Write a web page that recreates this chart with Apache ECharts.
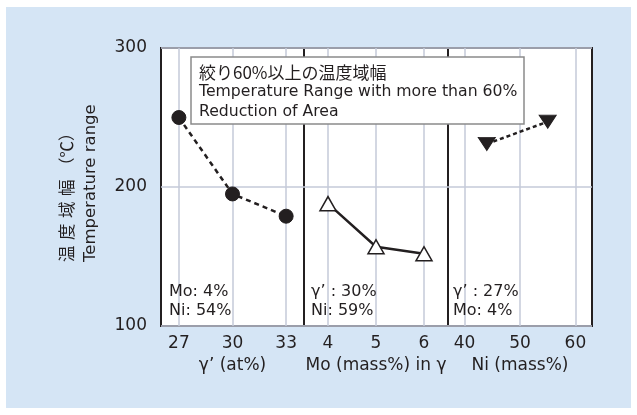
<!DOCTYPE html>
<html>
<head>
<meta charset="utf-8">
<script src="https://cdn.jsdelivr.net/npm/echarts@6/dist/echarts.min.js"></script>
<style>
  html, body { margin: 0; padding: 0; background: #ffffff; }
  #chart { width: 637px; height: 415px; }
</style>
</head>
<body>
<div id="chart"></div>
<script>
// Temperature range with reduction of area above 60%, three composition sweeps
const gammaPrimeAt = [27, 30, 33];          // γ' (at%)
const rangeVsGammaPrime = [250, 195, 179];  // °C
const moMass = [4, 5, 6];                   // Mo (mass%) in γ
const rangeVsMo = [188, 157, 152];          // °C
const niMass = [44, 55];                    // Ni (mass%)
const rangeVsNi = [231, 247];               // °C

const yTicks = [100, 200, 300];
const xTicks1 = [27, 30, 33];
const xTicks2 = [4, 5, 6];
const xTicks3 = [40, 50, 60];

const axisNames = ['γ’ (at%)', 'Mo (mass%) in γ', 'Ni (mass%)'];
const yNameJa = '温\u2004度\u2004域\u2004幅\u2004（℃）';
const yNameEn = 'Temperature range';
const boxTitleJa = '絞り60%以上の温度域幅';
const boxLinesEn = ['Temperature Range with more than 60%', 'Reduction of Area'];
const notes1 = ['Mo: 4%', 'Ni: 54%'];
const notes2 = ['γ’ : 30%', 'Ni: 59%'];
const notes3 = ['γ’ : 27%', 'Mo: 4%'];

const FONT = '"DejaVu Sans", "Noto Sans CJK JP", sans-serif';
const FONT_JA = '"Noto Sans CJK JP", sans-serif';
const INK = '#231f20';
const GRID_LINE = '#c4cad8';

const pairs = (xs, ys) => xs.map((x, i) => [x, ys[i]]);

const chart = echarts.init(document.getElementById('chart'), null, { renderer: 'canvas' });

const gridBase = { top: 48, height: 278, show: true, backgroundColor: '#ffffff', borderColor: INK, borderWidth: 2, containLabel: false };

function xAxisFor(idx, min, max, ticks, name) {
  return {
    type: 'value', gridIndex: idx, min: min, max: max,
    name: name, nameLocation: 'middle', nameGap: 31,
    nameTextStyle: { fontFamily: FONT, fontSize: 17, color: INK },
    axisLine: { show: false },
    axisTick: { show: false, customValues: ticks },
    axisLabel: { customValues: ticks, fontFamily: FONT, fontSize: 17, color: INK, margin: 9 },
    splitLine: { show: true, lineStyle: { color: GRID_LINE, width: 1.5 } }
  };
}

function yAxisFor(idx, showLabels) {
  return {
    type: 'value', gridIndex: idx, min: 100, max: 300, interval: 100,
    axisLine: { show: false }, axisTick: { show: false },
    axisLabel: { show: showLabels, customValues: yTicks, fontFamily: FONT, fontSize: 17, color: INK, margin: 14 },
    splitLine: { show: true, lineStyle: { color: GRID_LINE, width: 1.5 } }
  };
}

function noteText(x, lines) {
  return {
    type: 'text', x: x, y: 282, z: 10,
    style: { text: lines.join('\n'), fontFamily: FONT, fontSize: 16, fill: INK, lineHeight: 19.5, align: 'left', verticalAlign: 'top' }
  };
}

chart.setOption({
  animation: false,
  backgroundColor: '#ffffff',
  graphic: [
    { type: 'rect', z: -10, silent: true, shape: { x: 6, y: 7, width: 625, height: 401 }, style: { fill: '#d5e5f5' } },
    { type: 'rect', z: 20, shape: { x: 191, y: 57, width: 333, height: 67 }, style: { fill: '#ffffff', stroke: '#8a8a8a', lineWidth: 1.5 } },
    { type: 'text', z: 21, x: 199, y: 73, style: { text: boxTitleJa, fontFamily: FONT_JA, fontSize: 17, fill: INK, align: 'left', verticalAlign: 'middle' } },
    { type: 'text', z: 21, x: 199, y: 82.8, style: { text: boxLinesEn.join('\n'), fontFamily: FONT, fontSize: 15.7, fill: INK, lineHeight: 19.2, align: 'left', verticalAlign: 'top' } },
    { type: 'text', x: 67, y: 262, rotation: Math.PI / 2, style: { text: yNameJa, fontFamily: FONT_JA, fontSize: 16.5, fill: INK, align: 'left', verticalAlign: 'middle' } },
    { type: 'text', x: 91, y: 262, rotation: Math.PI / 2, style: { text: yNameEn, fontFamily: FONT, fontSize: 16.5, fill: INK, align: 'left', verticalAlign: 'middle' } },
    noteText(169, notes1),
    noteText(311, notes2),
    noteText(453, notes3)
  ],
  grid: [
    Object.assign({ left: 161, width: 143 }, gridBase),
    Object.assign({ left: 304, width: 144 }, gridBase),
    Object.assign({ left: 448, width: 144 }, gridBase)
  ],
  xAxis: [
    xAxisFor(0, 26, 34, xTicks1, axisNames[0]),
    xAxisFor(1, 3.5, 6.5, xTicks2, axisNames[1]),
    xAxisFor(2, 37, 63, xTicks3, axisNames[2])
  ],
  yAxis: [yAxisFor(0, true), yAxisFor(1, false), yAxisFor(2, false)],
  series: [
    {
      type: 'line', xAxisIndex: 0, yAxisIndex: 0, z: 5,
      data: pairs(gammaPrimeAt, rangeVsGammaPrime),
      symbol: 'circle', symbolSize: 14,
      itemStyle: { color: INK, borderColor: INK },
      lineStyle: { color: INK, width: 2.5, type: [5, 4] }
    },
    {
      type: 'line', xAxisIndex: 1, yAxisIndex: 1, z: 5,
      data: pairs(moMass, rangeVsMo),
      symbol: 'triangle', symbolSize: [16, 14],
      itemStyle: { color: '#ffffff', borderColor: INK, borderWidth: 1.5 },
      lineStyle: { color: INK, width: 2.5, type: 'solid' }
    },
    {
      type: 'line', xAxisIndex: 2, yAxisIndex: 2, z: 5,
      data: pairs(niMass, rangeVsNi),
      symbol: 'triangle', symbolRotate: 180, symbolSize: [17, 13],
      itemStyle: { color: INK, borderColor: INK },
      lineStyle: { color: INK, width: 2.5, type: [4, 3] }
    }
  ]
});
</script>
</body>
</html>
